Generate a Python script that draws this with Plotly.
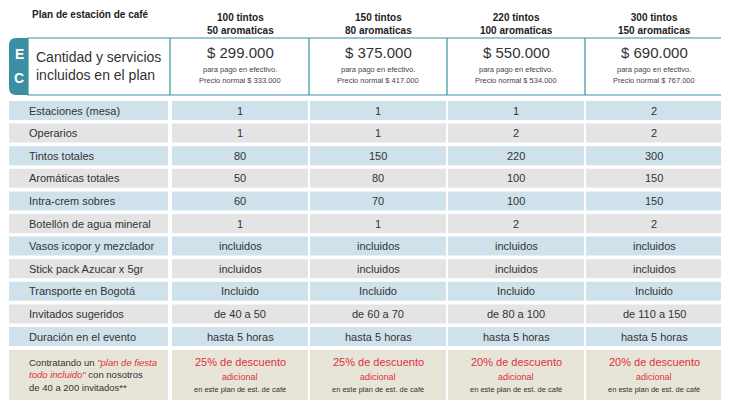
import plotly.graph_objects as go

plans = ["100 tintos<br>50 aromaticas", "150 tintos<br>80 aromaticas",
         "220 tintos<br>100 aromaticas", "300 tintos<br>150 aromaticas"]
prices = ["$ 299.000", "$ 375.000", "$ 550.000", "$ 690.000"]
normal = ["$ 333.000", "$ 417.000", "$ 534.000", "$ 767.000"]
row_labels = ["Estaciones (mesa)", "Operarios", "Tintos totales", "Aromáticas totales",
              "Intra-crem sobres", "Botellón de agua mineral", "Vasos icopor y mezclador",
              "Stick pack Azucar x 5gr", "Transporte en Bogotá", "Invitados sugeridos",
              "Duración en el evento"]
values = [
    ["1", "1", "1", "2"],
    ["1", "1", "2", "2"],
    ["80", "150", "220", "300"],
    ["50", "80", "100", "150"],
    ["60", "70", "100", "150"],
    ["1", "1", "2", "2"],
    ["incluidos"] * 4,
    ["incluidos"] * 4,
    ["Incluido"] * 4,
    ["de 40 a 50", "de 60 a 70", "de 80 a 100", "de 110 a 150"],
    ["hasta 5 horas"] * 4,
]
discounts = ["25%", "25%", "20%", "20%"]

W, H = 729, 408
OFF = 8  # page body margin
F = "Liberation Sans, Arial, sans-serif"
shapes, ann = [], []
col_x = [(172, 308), (310, 446), (448, 584), (586, 722)]
teal = "#3a8fa3"

def rect(x0, y0, x1, y1, fill, line=None, lw=0):
    shapes.append(dict(type="rect", x0=x0, y0=y0, x1=x1, y1=y1, fillcolor=fill,
                       line=dict(color=line or fill, width=lw), layer="below"))

def text(x, y, t, size=11, color="#333", xa="center", **kw):
    ann.append(dict(x=x, y=y, text=t, showarrow=False, xanchor=xa, yanchor="middle",
                    font=dict(family=F, size=size, color=color), **kw))

text(30, 14, "<b>Plan de estación de café</b>", 10, "#222", "left")
for (a, b), p in zip(col_x, plans):
    text((a + b) / 2, 24, "<b>" + p + "</b>", 10, "#222")

shapes.append(dict(type="path", path="M 28 38 L 16 38 Q 9 38 9 45 L 9 88 Q 9 95 16 95 L 28 95 Z",
                   fillcolor=teal, line=dict(width=0)))
text(19, 54, "<b>E</b>", 14, "white")
text(19, 78, "<b>C</b>", 14, "white")
rect(28, 38, 722, 95, "white", teal, 1.2)
for (a, b) in col_x[1:]:
    shapes.append(dict(type="line", x0=a - 1, x1=a - 1, y0=38, y1=95, line=dict(color=teal, width=1.2)))
shapes.append(dict(type="line", x0=170, x1=170, y0=38, y1=95, line=dict(color=teal, width=1.2)))
text(34, 66, "Cantidad y servicios<br>incluidos en el plan", 14, "#333", "left", align="left")
for (a, b), p, n in zip(col_x, prices, normal):
    c = (a + b) / 2
    text(c, 52, p, 15, "#333")
    text(c, 69, "para pago en efectivo.", 7.5, "#444")
    text(c, 80, "Precio normal " + n, 7.5, "#444")

for i, (lab, vals) in enumerate(zip(row_labels, values)):
    y0 = 101 + i * 22.6
    y1 = y0 + 19
    fill = "#cfe2ec" if i % 2 == 0 else "#e4e4e4"
    rect(9, y0, 168, y1, fill)
    text(27, (y0 + y1) / 2, lab, 11, "#333", "left")
    for (a, b), v in zip(col_x, vals):
        rect(a, y0, b, y1, fill)
        text((a + b) / 2, (y0 + y1) / 2, v, 11, "#333")

y0, y1 = 350, 400
beige = "#e6e5d8"
rect(9, y0, 168, y1, beige)
text(27, 375, "Contratando un <i><span style='color:#e0303a'>\"plan de fiesta</span></i><br>"
     "<i><span style='color:#e0303a'>todo incluido\"</span></i> con nosotros<br>de 40 a 200 invitados**",
     9.5, "#333", "left", align="left")
for (a, b), d in zip(col_x, discounts):
    rect(a, y0, b, y1, beige)
    c = (a + b) / 2
    text(c, 362, d + " de descuento", 11, "#e0303a")
    text(c, 377, "adicional", 9, "#e0303a")
    text(c, 389, "en este plan de est. de café", 7.5, "#333")

fig = go.Figure(go.Scatter(x=[OFF], y=[OFF], mode="markers", marker=dict(opacity=0), hoverinfo="skip"))
fig.update_layout(width=W - 2 * OFF, height=H - 2 * OFF, margin=dict(l=0, r=0, t=0, b=0),
                  plot_bgcolor="white", paper_bgcolor="white", showlegend=False,
                  shapes=shapes, annotations=ann,
                  xaxis=dict(range=[OFF, W - OFF], visible=False, fixedrange=True),
                  yaxis=dict(range=[H - OFF, OFF], visible=False, fixedrange=True))
fig.write_html("out.html")
